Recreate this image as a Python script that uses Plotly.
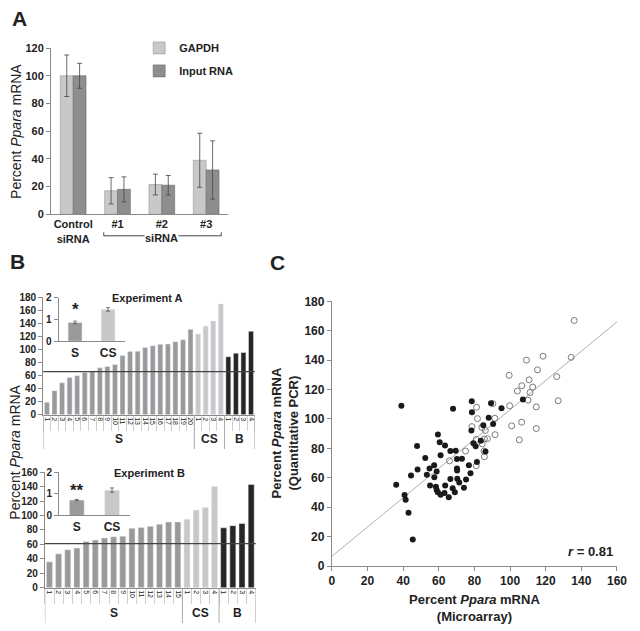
import plotly.graph_objects as go

W, H = 640, 631
FONT = "Liberation Sans, Arial, Helvetica, sans-serif"

# panel A - siRNA knock-down, normalised two ways
a_labels = ["Control<br>siRNA", "#1", "#2", "#3"]
a_gapdh = [100, 17, 21.5, 39]
a_gapdh_err = [15, 9.5, 7.5, 19.5]
a_input = [100, 18, 21, 32]
a_input_err = [9, 9, 7, 21]

# panel B - experiment A
exp_a_s = [19, 37, 49, 57, 60, 65, 67, 72, 74, 77, 91, 97, 97.5, 103, 106, 108, 108.5, 112, 115, 131]
exp_a_cs = [124, 136, 144, 170]
exp_a_b = [89, 94.5, 95.5, 128]
exp_a_cut = 66
# panel B - experiment B
exp_b_s = [36, 47, 52.5, 55, 64, 66, 69, 70.5, 71.5, 82.5, 83.5, 85, 88, 91, 91]
exp_b_cs = [95, 107.5, 111, 140]
exp_b_b = [83, 86, 89, 143]
exp_b_cut = 61

# insets
inset_labels = ["S", "CS"]
inset_a = [0.86, 1.46]
inset_a_err = [0.06, 0.08]
inset_b = [0.71, 1.17]
inset_b_err = [0.03, 0.1]

# panel C - microarray vs qPCR
c_filled_x = [39, 68, 59.5, 78.5, 89.3, 95.2, 78.6, 107.2, 88, 85, 90.5, 78.3, 60.5, 63.5, 47.8,
              66.5, 69.5, 83.6, 79.4, 80.7, 86.2, 61, 52.4, 70.2, 73, 57.4, 54.8, 48.1, 76.9,
              81.4, 70.2, 70.3, 44.4, 53.3, 58.8, 77.8, 57.5, 66.5, 70.4, 71.5, 75.3, 36.1, 55.1,
              58.4, 63.6, 67.8, 58.8, 59.5, 61, 63.2, 65.6, 69, 74.1, 40.8, 41.4, 43, 45.4]
c_filled_y = [109, 107, 89.5, 112, 110.6, 107.3, 104.5, 113.3, 100.8, 95.7, 96.5, 92.2, 84.2, 82, 81.6,
              78.2, 78.4, 85.2, 83.4, 81.5, 77.8, 75.4, 73.5, 72.8, 72.9, 68.5, 66.3, 65.6, 68.5,
              70.7, 66.3, 64.9, 61.6, 62, 64.2, 63.1, 60.3, 59.2, 59.3, 56.8, 58.8, 55.2, 54.8,
              53.9, 54.8, 52.8, 51.7, 50.1, 48.5, 49.7, 46.8, 50.1, 53.2, 48.3, 45, 36.2, 18]
c_open_x = [136, 109.2, 118.5, 134.3, 115.4, 99.5, 126.2, 106.6, 110.7, 112.7, 104.1, 111.2, 110.1,
            127, 99.8, 114.7, 81.2, 91.4, 81.7, 106.5, 100.9, 114.7, 78.6, 84.2, 86.1, 91.6, 81,
            85.6, 87.3, 84.4, 105.2, 85.4, 85.6, 75, 81, 90.3, 66]
c_open_y = [167, 140, 142.7, 141.9, 133.4, 129.7, 128.8, 122.6, 126.6, 121.7, 119, 118, 112.8,
            112.4, 109, 108.2, 108, 100.5, 100.2, 97.8, 95.3, 93.5, 94.8, 94.2, 92.2, 89.3, 86.1,
            86.3, 86.6, 83.1, 85.8, 78.2, 74.3, 78.2, 68.2, 110.4, 71.5]
fit_x = [0, 160]
fit_y = [6.6, 166]
r_text = "<i>r</i> = 0.81"

C_LIGHT = "#c8c8c8"
C_MID = "#9a9a9a"
C_DARK = "#262626"
AX = "#8a8a8a"


def px(x):
    return x / W


def py(y):
    return 1 - y / H


fig = go.Figure()
shapes = []
notes = []


def note(text, x, y, size=11, bold=True, angle=0, xanchor="center", yanchor="middle", **kw):
    d = dict(text=text, x=x, y=y, showarrow=False, textangle=angle, xanchor=xanchor,
             yanchor=yanchor, font=dict(size=size, weight="bold" if bold else "normal"))
    d.setdefault("xref", "paper")
    d.setdefault("yref", "paper")
    d.update(kw)
    notes.append(d)


# ---------- A
errstyle = dict(type="data", thickness=0.8, width=2.5, color="#444")
fig.add_trace(go.Bar(x=a_labels, y=a_gapdh, name="GAPDH", marker_color=C_LIGHT,
                     marker_line=dict(color="#999", width=0.6), width=0.29, offset=-0.29,
                     error_y=dict(array=a_gapdh_err, **errstyle), legendgroup="g1"))
fig.add_trace(go.Bar(x=a_labels, y=a_input, name="Input RNA", marker_color="#8e8e8e",
                     marker_line=dict(color="#666", width=0.6), width=0.29, offset=0,
                     error_y=dict(array=a_input_err, **errstyle), legendgroup="g2"))

# siRNA bracket under #1..#3
yb = py(234)
shapes += [
    dict(type="line", xref="x", yref="paper", x0=0.69, x1=3.34, y0=yb, y1=yb, line=dict(color="#444", width=1)),
    dict(type="line", xref="x", yref="paper", x0=0.69, x1=0.69, y0=yb, y1=py(230.5), line=dict(color="#444", width=1)),
    dict(type="line", xref="x", yref="paper", x0=3.34, x1=3.34, y0=yb, y1=py(230.5), line=dict(color="#444", width=1)),
]
note("siRNA", 2, py(236.5), size=11, xref="x", bgcolor="white", borderpad=0)


# ---------- B
def experiment(n, s, cs, b, cut, ylab_top, ylab_bot, ygrp):
    groups = [("S", s, C_MID), ("CS", cs, C_LIGHT), ("B", b, C_DARK)]
    ids, txt = [], []
    for g, vals, col in groups:
        x = [f"{g}{i + 1}" for i in range(len(vals))]
        fig.add_trace(go.Bar(x=x, y=vals, marker_color=col, width=0.66, showlegend=False,
                             xaxis=f"x{n}", yaxis=f"y{n}"))
        ids += x
        txt += [str(i + 1) for i in range(len(vals))]
    edge = -0.5
    bounds = [edge]
    for g, vals, _ in groups:
        note(g, edge + len(vals) / 2, py(ygrp), size=12, xref=f"x{n}")
        edge += len(vals)
        bounds.append(edge)
    for xb in bounds:
        shapes.append(dict(type="line", xref=f"x{n}", yref="paper", x0=xb, x1=xb,
                           y0=py(ylab_top), y1=py(ylab_bot), line=dict(color="#aaa", width=1)))
    shapes.append(dict(type="line", xref=f"x{n} domain", yref=f"y{n}", x0=0, x1=1, y0=cut, y1=cut,
                       line=dict(color="#444", width=1.2)))
    return ids, txt


ids_a, txt_a = experiment(2, exp_a_s, exp_a_cs, exp_a_b, exp_a_cut, 417, 452, 442)
ids_b, txt_b = experiment(3, exp_b_s, exp_b_cs, exp_b_b, exp_b_cut, 594, 630, 620)

ierr = dict(type="data", thickness=0.8, width=2, color="#555")
fig.add_trace(go.Bar(x=inset_labels, y=inset_a, marker_color=[C_MID, C_LIGHT], width=0.42,
                     error_y=dict(array=inset_a_err, **ierr), showlegend=False, xaxis="x4", yaxis="y4"))
fig.add_trace(go.Bar(x=inset_labels, y=inset_b, marker_color=[C_MID, C_LIGHT], width=0.42,
                     error_y=dict(array=inset_b_err, **ierr), showlegend=False, xaxis="x5", yaxis="y5"))
note("*", "S", inset_a[0] + inset_a_err[0], size=17, xref="x4", yref="y4", yanchor="bottom")
note("**", "S", inset_b[0] + inset_b_err[0], size=17, xref="x5", yref="y5", yanchor="bottom", yshift=-3)
note("Experiment A", px(148), py(298), size=11)
note("Experiment B", px(150), py(477), size=11)

# ---------- C
fig.add_trace(go.Scatter(x=fit_x, y=fit_y, mode="lines", line=dict(color="#b0b0b0", width=1),
                         showlegend=False, xaxis="x6", yaxis="y6"))
fig.add_trace(go.Scatter(x=c_open_x, y=c_open_y, mode="markers", showlegend=False,
                         marker=dict(symbol="circle-open", size=6, color="#7a7a7a", line=dict(width=1)),
                         xaxis="x6", yaxis="y6"))
fig.add_trace(go.Scatter(x=c_filled_x, y=c_filled_y, mode="markers", showlegend=False,
                         marker=dict(size=6, color="#1a1a1a"), xaxis="x6", yaxis="y6"))
note(r_text, px(625), py(557), size=13, xanchor="right")

# titles and panel letters
note("A", px(17), py(12), size=21)
note("B", px(15), py(260), size=21)
note("C", px(280), py(261), size=21)
note("Percent <i>Ppara</i> mRNA", px(13), py(127), size=14, bold=False, angle=-90)
note("Percent <i>Ppara</i> mRNA", px(12), py(455), size=14, bold=False, angle=-90)
note("Percent <i>Ppara</i> mRNA<br>(Quantitative PCR)", px(288), py(436), size=13, angle=-90)
note("Percent <i>Ppara</i> mRNA<br>(Microarray)", px(481), py(615), size=13)


def yax(dom, rng, dtick, size=11, anchor=None):
    return dict(domain=dom, range=rng, dtick=dtick, showline=True, linecolor=AX, linewidth=1,
                ticks="outside", ticklen=4, tickcolor=AX, showgrid=False, zeroline=False,
                tickfont=dict(size=size), anchor=anchor, fixedrange=True)


def catx(dom, ids, txt, anchor):
    return dict(domain=dom, anchor=anchor, type="category", categoryorder="array", categoryarray=ids,
                tickvals=ids, ticktext=txt, range=[-0.5, len(ids) - 0.5], showline=True,
                linecolor=AX, ticks="outside", tickson="boundaries", ticklen=15, tickcolor="#cfcfcf",
                tickangle=90, tickfont=dict(size=7, weight="normal"), ticklabelstandoff=0,
                showgrid=False)


fig.update_layout(
    width=W, height=H, margin=dict(l=0, r=0, t=0, b=0), autosize=False,
    paper_bgcolor="white", plot_bgcolor="white", barmode="overlay",
    font=dict(family=FONT, size=11, color="#222", weight="bold"),
    legend=dict(x=px(139), y=py(27), xanchor="left", yanchor="top", font=dict(size=11),
                tracegroupgap=4, bgcolor="rgba(0,0,0,0)"),
    xaxis=dict(domain=[px(49), px(230)], anchor="y", range=[-0.5, 3.5], showline=True,
               linecolor=AX, ticks="", tickfont=dict(size=11), showgrid=False),
    yaxis=yax([py(212), py(42)], [0, 120], 20, 11, "x"),
    xaxis2=catx([px(41), px(257)], ids_a, txt_a, "y2"),
    yaxis2=yax([py(417), py(297)], [0, 180], 20, 10, "x2"),
    xaxis3=catx([px(42.7), px(258)], ids_b, txt_b, "y3"),
    yaxis3=yax([py(594), py(475.7)], [0, 160], 20, 10, "x3"),
    xaxis4=dict(domain=[px(56.7), px(124.1)], anchor="y4", range=[-0.5, 1.5], showline=True,
                linecolor=AX, ticks="", tickfont=dict(size=12), showgrid=False),
    yaxis4=yax([py(341.7), py(297.3)], [0, 2], 1, 10, "x4"),
    xaxis5=dict(domain=[px(57.3), px(129.3)], anchor="y5", range=[-0.5, 1.5], showline=True,
                linecolor=AX, ticks="", tickfont=dict(size=12), showgrid=False),
    yaxis5=yax([py(520), py(475.7)], [0, 2], 1, 10, "x5"),
    xaxis6=dict(domain=[px(335.7), px(626.7)], anchor="y6", range=[0, 160], dtick=20, showline=True,
                linecolor=AX, ticks="outside", ticklen=4, tickcolor=AX, tickfont=dict(size=12),
                showgrid=False, zeroline=False),
    yaxis6=yax([py(571.7), py(301)], [0, 180], 20, 12, "x6"),
    shapes=shapes, annotations=notes,
)

# keep the page exactly the figure's size: no body margin, no scrollbars
page_css = ("document.documentElement.style.overflow='hidden';"
            "document.body.style.margin='0px';document.body.style.overflow='hidden';")
fig.write_html("out.html", config={"displayModeBar": False}, post_script=page_css)
